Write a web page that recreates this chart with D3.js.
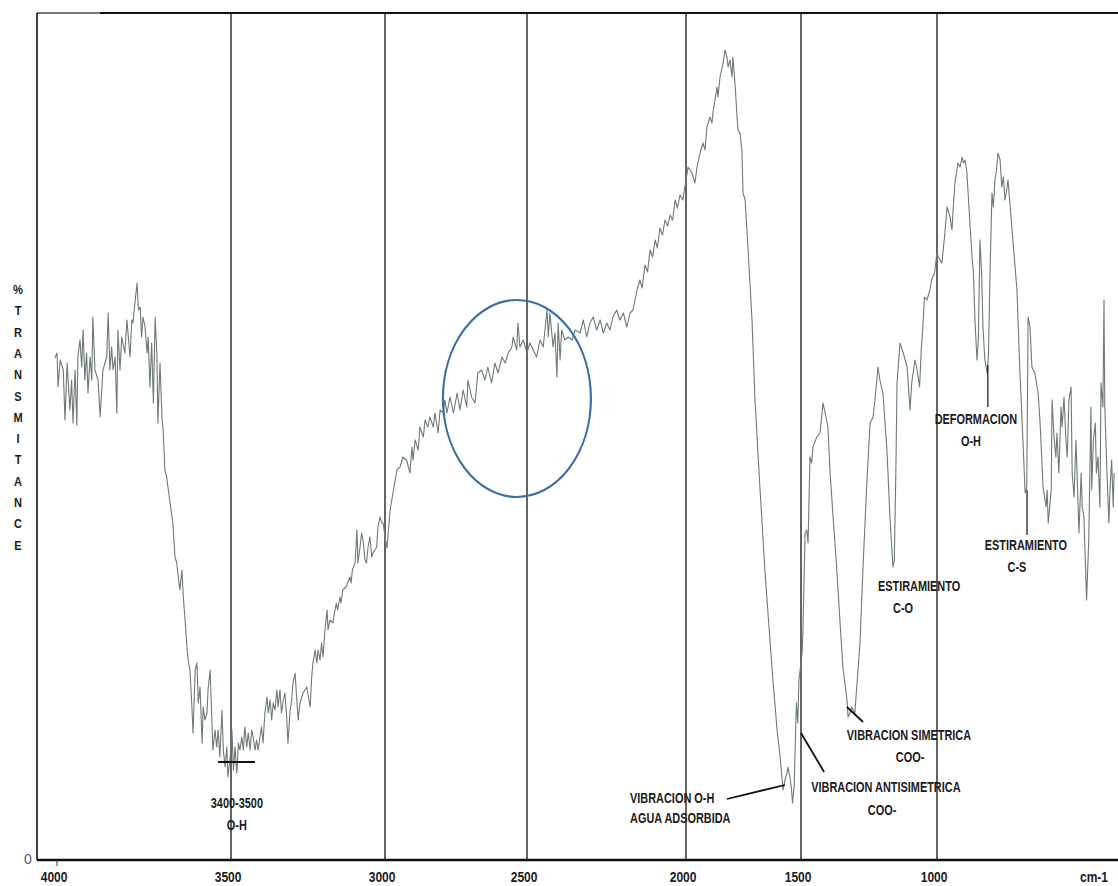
<!DOCTYPE html>
<html>
<head>
<meta charset="utf-8">
<script src="https://cdn.jsdelivr.net/npm/d3@7"></script>
<style>
  body { margin: 0; background: #fff; }
  svg { display: block; }
  .lbl { font-family: 'Liberation Sans', Arial, sans-serif; font-weight: bold; fill: #1b1b1b; }
</style>
</head>
<body>
<svg class="ftir" width="1118" height="886"></svg>
<script>
// wavenumber (cm-1), %T
const bandOH = [
  [4006,50.2],[4000,50.7],[3997,47.3],[3991,50.0],[3982,49.0],[3977,44.0],[3971,49.7],[3963,45.0],[3958,48.0],[3954,43.7],
  [3948,49.0],[3943,43.5],[3940,50.3],[3934,52.0],[3929,49.3],[3925,53.0],[3920,48.0],[3915,50.7],[3911,46.7],[3905,50.3],
  [3900,48.0],[3897,54.3],[3891,49.0],[3882,48.0],[3876,44.3],[3868,49.0],[3857,50.3],[3853,54.7],[3848,49.0],[3843,51.3],
  [3839,49.0],[3833,50.3],[3828,44.7],[3825,53.0],[3819,49.0],[3814,52.3],[3805,50.7],[3799,54.0],[3795,52.3],[3790,50.3],
  [3785,54.0],[3782,53.7],[3776,55.7],[3770,57.7],[3766,55.0],[3761,55.3],[3757,52.3],[3753,54.3],[3747,53.3],[3741,50.7],
  [3738,52.3],[3733,47.3],[3728,51.7],[3723,45.7],[3718,54.3],[3713,50.7],[3710,43.7],[3704,49.7],[3698,44.0],[3695,43.0],
  [3690,39.0],[3685,38.3],[3675,35.7],[3667,33.7],[3661,30.3],[3656,29.7],[3647,27.0],[3641,29.0],[3637,26.3],[3632,24.0],
  [3626,21.0],[3623,20.0],[3618,19.0],[3613,15.7],[3609,12.7],[3603,19.0],[3598,19.7],[3594,15.7],[3589,17.3],[3583,11.7],
  [3580,15.3],[3575,14.0],[3569,14.7],[3566,17.0],[3560,19.0],[3555,14.0],[3552,11.0],[3546,13.0],[3541,11.3],[3537,13.0],
  [3532,10.3],[3526,15.0],[3522,11.0],[3517,9.3],[3512,11.3],[3509,8.3],[3503,10.0],[3497,13.0],[3492,9.0],[3487,11.3],
  [3481,8.7],[3476,11.7],[3471,11.0],[3465,12.3],[3460,11.0],[3455,13.3],[3449,11.3],[3444,12.7],[3438,11.0],[3433,13.0],
  [3428,12.3],[3422,11.0],[3417,12.0],[3412,11.0],[3406,12.3],[3401,13.3],[3396,11.7],[3390,14.7],[3383,16.3],[3379,14.7],
  [3373,16.0],[3368,14.0],[3363,15.7],[3357,15.0],[3351,17.0],[3347,15.3],[3341,17.0],[3336,14.7],[3330,16.0],[3325,16.7],
  [3320,14.7],[3315,11.7],[3308,15.0],[3303,16.0],[3299,17.7],[3292,18.7],[3287,16.3],[3282,14.0],[3276,15.7],[3266,16.7],
  [3254,17.3],[3243,15.3],[3238,18.3],[3234,19.7],[3227,21.0],[3221,19.7],[3217,21.0],[3211,20.0],[3206,21.7],[3201,20.3],
  [3195,23.0],[3188,25.0],[3185,23.0],[3179,24.0],[3169,23.7],[3164,24.7],[3158,25.7],[3154,25.0],[3146,26.3],[3143,25.7],
  [3137,27.0],[3126,27.3],[3114,28.3],[3110,27.7],[3106,29.0],[3097,29.7],[3091,33.0],[3088,29.7],[3081,31.3],[3076,32.7],
  [3070,31.7],[3065,30.0],[3060,29.7],[3055,31.3],[3049,32.3],[3043,30.3],[3039,30.7],[3027,31.3],[3023,33.3],[3016,34.3],
  [3010,33.7],[3006,33.7],[3000,32.3]
];

const slope = [
  [2993,31.2],[2982,35.0],[2972,36.7],[2958,39.0],[2947,39.3],[2937,40.3],[2924,40.0],[2912,38.7],[2905,41.3],[2901,40.0],
  [2894,42.0],[2883,41.0],[2877,43.3],[2865,42.3],[2859,44.0],[2849,43.3],[2842,44.3],[2830,43.3],[2824,44.7],[2813,42.7],
  [2806,45.0],[2795,44.7],[2789,46.0],[2782,44.7],[2771,46.3],[2759,44.7],[2746,46.7],[2736,45.0],[2725,47.0],[2712,45.3],
  [2708,48.0],[2695,46.3],[2683,45.7],[2673,48.7],[2660,49.0],[2648,48.0],[2638,49.3],[2625,47.7],[2613,49.7],[2602,48.7],
  [2588,50.3],[2577,49.7],[2566,50.7],[2553,51.3],[2549,52.3],[2536,51.0],[2532,53.7],[2525,51.3],[2513,52.0],[2500,50.7],
  [2491,51.7],[2480,51.0],[2470,50.3],[2459,52.0],[2449,51.3],[2437,55.0],[2433,52.3],[2428,54.7],[2418,51.3],[2412,52.7],
  [2406,48.3],[2402,53.7],[2396,50.0],[2391,53.0],[2381,52.0],[2370,52.3],[2358,52.0],[2349,53.0],[2333,52.7],[2323,54.0],
  [2312,52.3],[2302,53.7],[2292,54.3],[2281,53.0],[2270,54.0],[2260,52.7],[2249,53.7],[2239,53.0],[2230,54.3],[2218,55.0],
  [2208,54.0],[2197,54.7],[2186,53.3],[2176,54.7],[2167,55.0],[2154,57.0],[2145,58.0],[2138,57.2],[2129,59.5],[2121,58.8],
  [2113,61.0],[2105,60.3],[2097,62.0],[2090,61.2],[2082,63.2],[2074,62.5],[2066,64.0],[2058,63.4],[2050,64.5],[2042,64.0],
  [2034,66.0],[2027,65.2],[2019,66.5],[2010,66.0],[2000,68.0]
];

const carboxyl = [
  [1991,69.3],[1974,68.7],[1961,67.7],[1952,69.3],[1939,70.7],[1926,71.7],[1917,71.0],[1909,73.3],[1896,74.3],[1887,73.7],
  [1883,74.7],[1874,76.0],[1865,77.3],[1861,76.3],[1852,78.3],[1839,79.7],[1830,81.0],[1822,80.3],[1817,79.3],[1809,80.0],
  [1800,78.3],[1796,80.3],[1787,77.7],[1778,74.3],[1774,73.0],[1765,72.7],[1757,71.0],[1752,66.7],[1743,66.0],[1730,61.0],
  [1713,54.0],[1700,46.0],[1678,37.0],[1657,29.0],[1635,22.0],[1622,18.0],[1604,13.0],[1591,10.3],[1583,8.3],[1578,7.0],
  [1570,8.0],[1561,8.7],[1557,9.3],[1548,8.3],[1541,7.0],[1537,5.7],[1530,7.3],[1522,14.0],[1520,15.7],[1514,13.7],
  [1509,18.0],[1496,20.7],[1493,22.7],[1485,32.7],[1479,33.0],[1474,31.7],[1467,40.3],[1461,39.7],[1456,41.3],[1442,42.3],
  [1430,42.7],[1419,45.7],[1406,44.0],[1401,43.3],[1393,38.7],[1382,34.3],[1369,29.3],[1357,24.0],[1346,19.3],[1331,16.0],
  [1327,14.3],[1320,14.7],[1314,15.3],[1302,14.7],[1294,17.7],[1283,21.7],[1272,29.3],[1258,37.7],[1246,43.7],[1235,44.3],
  [1228,46.0],[1217,49.3],[1210,48.0],[1199,46.7],[1184,41.0],[1173,34.3],[1162,29.3],[1157,30.0],[1151,39.3],[1147,47.7],
  [1136,51.7],[1124,50.7],[1110,49.3],[1099,45.0],[1093,47.7],[1081,50.0],[1075,49.3],[1064,47.3],[1058,51.0],[1052,53.3],
  [1046,56.3],[1037,56.0],[1026,57.0],[1020,58.0],[1009,58.7],[1000,60.7]
];

const fingerprint = [
  [995,60.3],[982,59.7],[971,62.7],[963,65.3],[952,64.3],[945,63.0],[940,65.3],[934,67.7],[923,69.7],[915,69.3],
  [908,70.3],[903,69.7],[897,70.0],[890,68.7],[879,63.7],[871,60.3],[866,58.7],[860,53.7],[853,50.0],[848,52.0],
  [842,62.0],[836,58.7],[831,53.3],[824,50.0],[816,48.7],[811,50.3],[805,58.7],[798,66.7],[793,65.3],[787,68.0],
  [781,69.0],[776,70.7],[768,70.0],[762,67.3],[756,68.3],[750,66.0],[744,67.0],[739,68.0],[732,65.7],[721,62.0],
  [706,57.0],[695,48.7],[684,42.0],[676,36.7],[670,37.3],[665,54.3],[658,53.3],[651,49.3],[640,48.7],[632,47.3],
  [628,46.7],[621,43.7],[610,37.3],[599,35.3],[595,37.0],[591,33.7],[580,37.0],[577,46.0],[569,42.0],[563,40.3],
  [559,42.7],[552,38.7],[544,45.3],[540,43.3],[533,46.3],[526,42.0],[521,40.3],[515,46.0],[507,47.3],[503,38.7],
  [496,36.3],[489,42.0],[485,38.7],[478,32.7],[470,38.7],[466,35.3],[460,34.3],[453,28.7],[450,26.0],[442,32.0],
  [434,45.3],[431,37.0],[425,42.0],[418,43.7],[414,38.7],[408,40.3],[401,35.3],[397,47.7],[390,45.3],[386,56.0],
  [383,45.3],[375,38.7],[368,33.7],[364,37.0],[358,40.0],[352,35.3],[349,38.7]
];

const wnTicks = [4000, 3500, 3000, 2500, 2000, 1500, 1000];
const yLetters = ["%", "T", "R", "A", "N", "S", "M", "I", "T", "A", "N", "C", "E"];

// band labels, anchored in (cm-1, %T)
const labels = [
  {text: "3400-3500", wn: 3481, t: 5.7, anchor: "middle"},
  {text: "O-H", wn: 3481, t: 3.5, anchor: "middle"},
  {text: "VIBRACION O-H", wn: 2176, t: 6.2, anchor: "start"},
  {text: "AGUA ADSORBIDA", wn: 2176, t: 4.2, anchor: "start"},
  {text: "VIBRACION ANTISIMETRICA", wn: 1188, t: 7.3, anchor: "middle"},
  {text: "COO-", wn: 1202, t: 5.0, anchor: "middle"},
  {text: "VIBRACION SIMETRICA", wn: 1103, t: 12.5, anchor: "middle"},
  {text: "COO-", wn: 1099, t: 10.3, anchor: "middle"},
  {text: "ESTIRAMIENTO", wn: 1066, t: 27.4, anchor: "middle"},
  {text: "C-O", wn: 1125, t: 25.2, anchor: "middle"},
  {text: "DEFORMACION", wn: 857, t: 44.1, anchor: "middle"},
  {text: "O-H", wn: 875, t: 41.9, anchor: "middle"},
  {text: "ESTIRAMIENTO", wn: 673, t: 31.5, anchor: "middle"},
  {text: "C-S", wn: 706, t: 29.3, anchor: "middle"}
];

const leaders = [
  {from: [3537, 9.8], to: [3422, 9.8], w: 2.2},
  {from: [1822, 6.1], to: [1570, 7.5], w: 1.8},
  {from: [1500, 12.7], to: [1415, 8.8], w: 1.8},
  {from: [1331, 15.3], to: [1272, 13.8], w: 1.8},
  {from: [813, 49.5], to: [813, 45.3], w: 1.2},
  {from: [669, 37.0], to: [669, 32.5], w: 1.2}
];

// the hand drawn circle round 2500 cm-1
const circleBox = {wn: [2796, 2299], t: [36.3, 56.0]};

(function(){
    var svg = d3.select("svg.ftir"),
    width = +svg.attr("width"),
    height = +svg.attr("height");

    var left = 37, top = 13, bottom = 860;
    var squeeze = 0.78;   // narrow bold look of the scan's lettering

    var x = d3.scaleLinear()
        .domain([4000, 3500, 3000, 2500, 2000, 1500, 1000, 340])
        .range([57, 231, 385, 527, 686, 801, 937, 1116.5]);
    var y = d3.scaleLinear().domain([0, 84.7]).range([bottom, top]);

    svg.append("defs").append("clipPath").attr("id", "plot")
        .append("rect")
        .attr("x", left).attr("y", top)
        .attr("width", width - left).attr("height", bottom - top);

    // vertical guide lines
    svg.append("g").attr("id", "grid")
        .selectAll("line")
        .data(wnTicks.slice(1))
        .enter().append("line")
        .attr("x1", function(d) { return x(d); })
        .attr("x2", function(d) { return x(d); })
        .attr("y1", top).attr("y2", bottom)
        .attr("stroke", "#111").attr("stroke-width", 1.3);

    var spectrum = bandOH.concat(slope, carboxyl, fingerprint);
    var line = d3.line()
        .x(function(d) { return x(d[0]); })
        .y(function(d) { return y(d[1]); });

    svg.append("path")
        .datum(spectrum)
        .attr("clip-path", "url(#plot)")
        .attr("d", line)
        .attr("fill", "none")
        .attr("stroke", "#6d7a77")
        .attr("stroke-width", 1.1)
        .attr("stroke-linejoin", "round");

    // frame
    svg.append("line").attr("x1", left).attr("x2", 100).attr("y1", top).attr("y2", top)
        .attr("stroke", "#777").attr("stroke-width", 2);
    svg.append("line").attr("x1", 100).attr("x2", width).attr("y1", top).attr("y2", top)
        .attr("stroke", "#111").attr("stroke-width", 2.2);
    svg.append("line").attr("x1", left).attr("x2", left).attr("y1", top).attr("y2", bottom)
        .attr("stroke", "#111").attr("stroke-width", 1.6);

    var xAxis = d3.axisBottom(x).tickValues(wnTicks).tickSize(0).tickPadding(12)
        .tickFormat(d3.format("d"));
    var gx = svg.append("g")
        .attr("transform", "translate(0," + bottom + ")")
        .call(xAxis);
    gx.select(".domain").remove();
    gx.append("line").attr("x1", left).attr("x2", width)
        .attr("stroke", "#111").attr("stroke-width", 2.4);
    gx.append("line").attr("x1", x(4000)).attr("x2", x(4000)).attr("y1", 0).attr("y2", 6)
        .attr("stroke", "#333");
    gx.selectAll(".tick text")
        .attr("class", "lbl")
        .attr("dx", -4)
        .attr("transform", "scale(0.86,1)")
        .style("font-size", "14px");
    gx.append("text").attr("class", "lbl")
        .attr("transform", "translate(1094,22) scale(0.86,1)")
        .style("font-size", "14px")
        .text("cm-1");

    svg.append("text")
        .attr("x", 28).attr("y", bottom + 4)
        .attr("text-anchor", "middle")
        .style("font-family", "'Liberation Sans', sans-serif")
        .style("font-size", "14px")
        .attr("fill", "#555")
        .text("0");

    svg.append("g").attr("id", "ylabel")
        .selectAll("text")
        .data(yLetters)
        .enter().append("text")
        .attr("class", "lbl")
        .attr("transform", function(d, i) { return "translate(18," + (294 + i * 21.3) + ") scale(0.85,1)"; })
        .attr("text-anchor", "middle")
        .style("font-size", "13px")
        .text(function(d) { return d; });

    // circle
    var cx0 = x(circleBox.wn[0]), cx1 = x(circleBox.wn[1]);
    var cy0 = y(circleBox.t[1]), cy1 = y(circleBox.t[0]);
    svg.append("ellipse")
        .attr("cx", (cx0 + cx1) / 2).attr("cy", (cy0 + cy1) / 2)
        .attr("rx", (cx1 - cx0) / 2).attr("ry", (cy1 - cy0) / 2)
        .attr("fill", "none")
        .attr("stroke", "#3d6fa5")
        .attr("stroke-width", 2.2);

    svg.append("g").attr("id", "leaders")
        .selectAll("line")
        .data(leaders)
        .enter().append("line")
        .attr("x1", function(d) { return x(d.from[0]); })
        .attr("y1", function(d) { return y(d.from[1]); })
        .attr("x2", function(d) { return x(d.to[0]); })
        .attr("y2", function(d) { return y(d.to[1]); })
        .attr("stroke", "#111")
        .attr("stroke-width", function(d) { return d.w; });

    svg.append("g").attr("id", "labels")
        .selectAll("text")
        .data(labels)
        .enter().append("text")
        .attr("class", "lbl")
        .attr("transform", function(d) {
            return "translate(" + x(d.wn) + "," + y(d.t) + ") scale(" + squeeze + ",1)";
        })
        .attr("dy", "0.35em")
        .attr("text-anchor", function(d) { return d.anchor; })
        .style("font-size", "14px")
        .text(function(d) { return d.text; });
})();
</script>
</body>
</html>
